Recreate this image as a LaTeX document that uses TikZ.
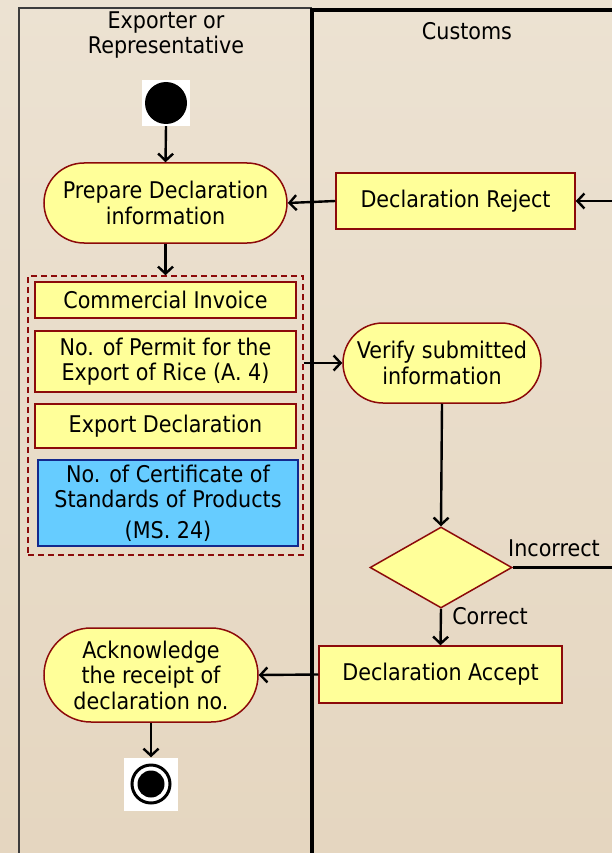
\documentclass[tikz,border=0pt]{standalone}
\usepackage{fontspec}
\setmainfont{DejaVu Sans Condensed}
\usetikzlibrary{shapes.misc,shapes.geometric,arrows.meta}
\definecolor{bgtop}{RGB}{236,226,210}
\definecolor{bgbot}{RGB}{229,214,192}
\definecolor{nodefill}{RGB}{255,255,153}
\definecolor{nodeline}{RGB}{140,10,10}
\definecolor{bluefill}{RGB}{102,204,255}
\definecolor{blueline}{RGB}{20,40,140}
\definecolor{laneleft}{RGB}{60,60,60}
\tikzset{
  txt/.style={font=\fontsize{23}{25.5}\selectfont, align=center},
  activity/.style={rounded rectangle, draw=nodeline, line width=1.5pt, fill=nodefill, inner sep=0pt, txt},
  docbox/.style={rectangle, draw=nodeline, line width=1.5pt, fill=nodefill, inner sep=0pt, txt},
  bluebox/.style={rectangle, draw=blueline, line width=1.5pt, fill=bluefill, inner sep=0pt, txt},
  groupbox/.style={rectangle, draw=nodeline, line width=1.5pt, dash pattern=on 6pt off 4pt, inner sep=0pt},
  decision/.style={diamond, draw=nodeline, line width=1.5pt, fill=nodefill, inner sep=0pt, shape aspect=1.75},
  arr/.style={draw=black, line width=2.4pt, -{Straight Barb[length=7pt,width=15pt,line width=2.4pt]}},
  flow/.style={draw=black, line width=2.4pt},
  lbl/.style={txt, inner sep=0pt},
}
\begin{document}
\begin{tikzpicture}[x=1pt,y=-1pt]
\useasboundingbox (0,0) rectangle (612,853);
\shade[top color=bgtop, bottom color=bgbot] (0,0) rectangle (612,853);
% swimlanes
\draw[laneleft, line width=2pt] (19,853) -- (19,8.5) -- (312,8.5);
\draw[black, line width=3.4pt] (312,853) -- (312,10) -- (612,10);
\node[lbl] (laneA) at (166,35) {Exporter or\\Representative};
\node[lbl] (laneB) at (467,31) {Customs};
% start
\node[fill=white, minimum width=48pt, minimum height=46pt, inner sep=0pt] (startbg) at (166,103) {};
\node[circle, fill=black, minimum size=42pt, inner sep=0pt] (start) at (166,103) {};
% activities
\node[activity, minimum width=243pt, minimum height=80pt] (prep) at (165.5,203) {Prepare Declaration\\information};
\node[docbox, minimum width=239pt, minimum height=56pt] (reject) at (455.5,201) {Declaration Reject};
\node[groupbox, minimum width=275pt, minimum height=279pt] (group) at (165.5,415.5) {};
\node[docbox, minimum width=261pt, minimum height=36pt] (inv) at (165.5,300) {Commercial Invoice};
\node[docbox, minimum width=261pt, minimum height=61pt] (permit) at (165.5,361.5) {No. of Permit for the\\Export of Rice (A. 4)};
\node[docbox, minimum width=261pt, minimum height=44pt] (expdecl) at (165.5,426) {Export Declaration};
\node[bluebox, minimum width=260pt, minimum height=86pt] (cert) at (168,503) {No. of Certificate of\\Standards of Products\\[5pt](MS. 24)};
\node[activity, minimum width=198pt, minimum height=80pt] (verify) at (442,363) {Verify submitted\\information};
\node[decision, minimum width=142pt, minimum height=81pt] (dec) at (441,567.5) {};
\node[docbox, minimum width=243pt, minimum height=57pt] (accept) at (440.5,674.5) {Declaration Accept};
\node[activity, minimum width=214pt, minimum height=94pt] (ack) at (151,675) {Acknowledge\\the receipt of\\declaration no.};
% end
\node[fill=white, minimum width=54pt, minimum height=53pt, inner sep=0pt] (endbg) at (151,784) {};
\node[circle, draw=black, line width=3pt, minimum size=38pt, inner sep=0pt] (endring) at (151,784) {};
\node[circle, fill=black, minimum size=27pt, inner sep=0pt] (enddot) at (151,784) {};
% off-page ends
\coordinate (offreject) at (612,201);
\coordinate (offincorrect) at (612,567.5);
% connectors
\draw[arr] (startbg.south) -- (prep.north);
\draw[arr] (prep.south) -- (group.north);
\draw[arr] (offreject) -- (reject.east);
\draw[arr] (reject.west) -- (prep.east);
\draw[arr] (group.east |- verify.west) -- (verify.west);
\draw[arr] (verify.south) -- (dec.north);
\draw[flow] (dec.east) -- (offincorrect);
\draw[arr] (dec.south) -- (accept.north);
\draw[arr] (accept.west) -- (ack.east);
\draw[arr] (ack.south) -- (endbg.north);
\node[lbl] (lblinc) at (554,548) {Incorrect};
\node[lbl] (lblcor) at (490,616) {Correct};
\end{tikzpicture}
\end{document}
